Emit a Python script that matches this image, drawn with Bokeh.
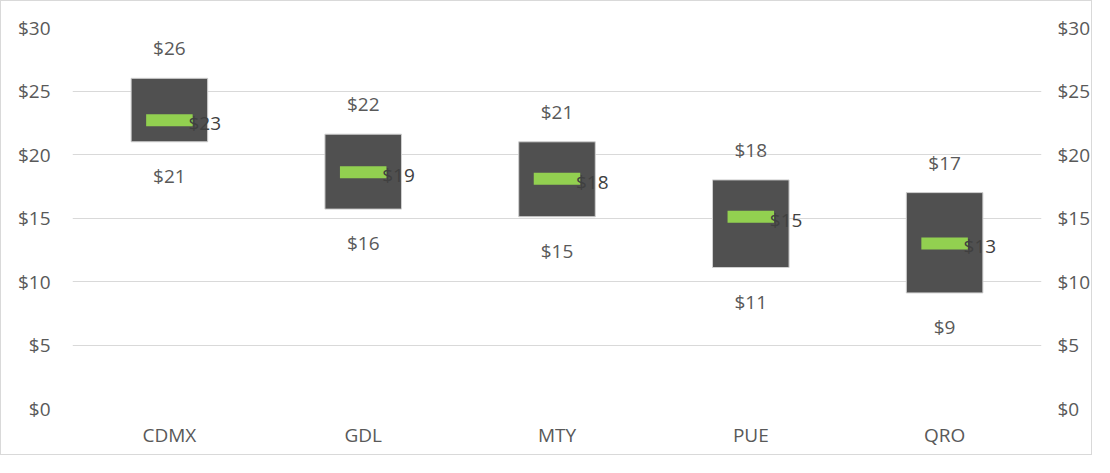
from bokeh.plotting import figure
from bokeh.models import LinearAxis, NumeralTickFormatter, FixedTicker, ColumnDataSource, Range1d
from bokeh.core.properties import value
from bokeh.embed import file_html
from bokeh.resources import INLINE

cities = ["CDMX", "GDL", "MTY", "PUE", "QRO"]
high = [26.0, 21.6, 21.0, 18.0, 17.0]
low = [21.0, 15.7, 15.1, 11.1, 9.1]
mid = [22.7, 18.6, 18.1, 15.1, 13.0]
y_ticks = [0, 5, 10, 15, 20, 25, 30]

FONT = "Open Sans"
TXT = "#595959"
FS = "19px"

def fmt(v):
    return "$%d" % int(round(v))

src = ColumnDataSource(dict(
    x=cities, high=high, low=low, mid=mid,
    high_t=[fmt(v) for v in high],
    low_t=[fmt(v) for v in low],
    mid_t=[fmt(v) for v in mid],
))

p = figure(x_range=cities, y_range=Range1d(0, 30), width=1092, height=455,
           output_backend="svg", toolbar_location=None, y_axis_location="left",
           min_border_left=71, min_border_right=50, min_border_top=26, min_border_bottom=48,
           styles={"border": "1px solid #d9d9d9"})
p.outline_line_color = None
p.background_fill_color = "white"
p.border_fill_color = "white"

p.xgrid.grid_line_color = None
p.ygrid.grid_line_color = "#d9d9d9"
p.ygrid.grid_line_width = 1
p.ygrid.ticker = FixedTicker(ticks=y_ticks)

def style_axis(ax, standoff):
    ax.axis_line_color = None
    ax.major_tick_line_color = None
    ax.minor_tick_line_color = None
    ax.major_tick_out = 0
    ax.major_tick_in = 0
    ax.major_label_text_font = FONT
    ax.major_label_text_font_size = FS
    ax.major_label_text_color = TXT
    ax.major_label_standoff = standoff

p.yaxis.ticker = FixedTicker(ticks=y_ticks)
p.yaxis.formatter = NumeralTickFormatter(format="$0")
style_axis(p.yaxis[0], 22)
style_axis(p.xaxis[0], 13)

ra = LinearAxis(ticker=FixedTicker(ticks=y_ticks), formatter=NumeralTickFormatter(format="$0"))
style_axis(ra, 16)
ra.major_label_text_align = "left"
p.add_layout(ra, "right")

p.vbar(x="x", top="high", bottom="low", width=0.395, source=src,
       fill_color="#505050", line_color="#d0d0d0", line_width=1)
p.rect(x="x", y="mid", width=0.24, height=12, height_units="screen", source=src,
       fill_color="#92D050", line_color=None)

p.text(x="x", y="high", text="high_t", source=src, text_align="center", text_baseline="middle",
       y_offset=-30, text_font=value(FONT), text_font_size=FS, text_color=TXT)
p.text(x="x", y="low", text="low_t", source=src, text_align="center", text_baseline="middle",
       y_offset=34, text_font=value(FONT), text_font_size=FS, text_color=TXT)
p.text(x="x", y="mid", text="mid_t", source=src, text_align="left", text_baseline="middle",
       x_offset=19, y_offset=3, text_font=value(FONT), text_font_size=FS, text_color="#404040")

open("out.html", "w").write(file_html(p, INLINE))
